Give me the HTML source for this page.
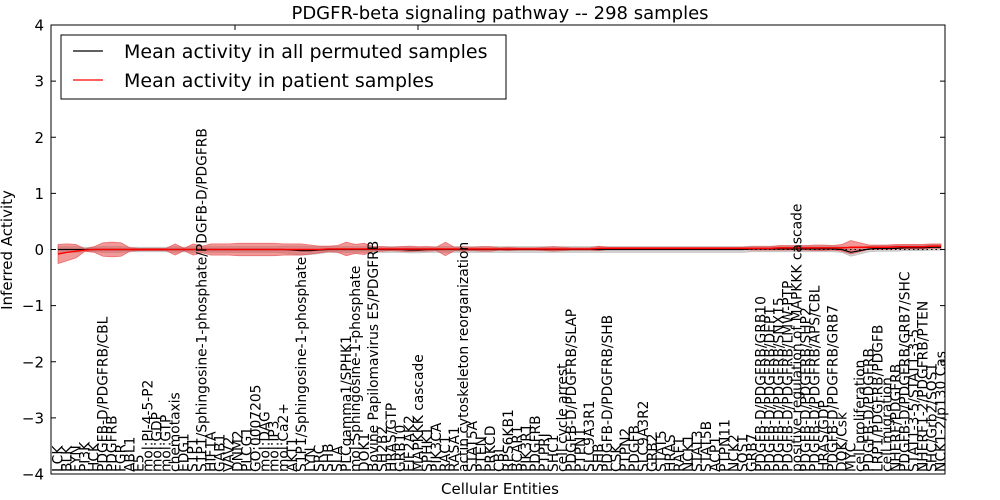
<!DOCTYPE html>
<html><head><meta charset="utf-8"><style>
html,body{margin:0;padding:0;background:#fff;}
svg{display:block;font-family:"DejaVu Sans","Liberation Sans",sans-serif;}
</style></head><body>
<svg id="chart" width="1000" height="500" viewBox="0 0 1000 500" xmlns="http://www.w3.org/2000/svg">
<rect x="0" y="0" width="1000" height="500" fill="#fff"/>
<text x="500" y="19" text-anchor="middle" font-size="18">PDGFR-beta signaling pathway -- 298 samples</text>
<g id="plot"></g>
<text x="500" y="494" text-anchor="middle" font-size="15">Cellular Entities</text>
<text x="12" y="250" text-anchor="middle" font-size="15" transform="rotate(-90 12 250)">Inferred Activity</text>
<g>
<rect x="61" y="35" width="445" height="64" fill="#fff" stroke="#000" stroke-width="1"/>
<line x1="73" y1="51" x2="103" y2="51" stroke="#000" stroke-width="1.2"/>
<text x="124" y="58" font-size="19">Mean activity in all permuted samples</text>
<line x1="73" y1="80" x2="103" y2="80" stroke="#f00" stroke-width="1.2"/>
<text x="124" y="87" font-size="19">Mean activity in patient samples</text>
</g>
</svg>
<script>
const categories = ["LCK","BLK","FYN","PI3K","HCK","PDGFB-D/PDGFRB/CBL","PDGFRB","FGR","ABL1","E5","mol:PI-4-5-P2","mol:GDP","mol:GTP","chemotaxis","EDG1","S1P1","S1P1/Sphingosine-1-phosphate/PDGFB-D/PDGFRB","HIF1A","GAB1","VAV2","DNM2","PLCG1","GO:0007205","mol:DAG","mol:IP3","mol:Ca2+","AKT1","S1P1/Sphingosine-1-phosphate","LYN","SRC","SHB","SLA","PLCgamma1/SPHK1","mol:Sphingosine-1-phosphate","DOK1","Bovine Papilomavirus E5/PDGFRB","SH2B2","HRAS/GTP","GRB10","EIF2AK2","MAPKKK cascade","SPHK1","PIK3CA","RAC1","RASA1","actin cytoskeleton reorganization","STAT5A","PTEN","PRKCD","CBL","RPS6KB1","BCAR1","PIK3R1","PDGFRB","PTPRJ","SHC1","cell cycle arrest","PDGFB-D/PDGFRB/SLAP","PTPN1","SLC9A3R1","SHB","PDGFB-D/PDGFRB/SHB","CSK","PTPN2","PDGFB","SLC9A3R2","GRB2","STAT5","HRAS","RAF1","NCK1","STAT3","STAT5B","ACP1","PTPN11","NCK2","SOS1","GRB7","PDGFB-D/PDGFRB/GRB10","PDGFB-D/PDGFRB/DEP1","PDGFB-D/PDGFRB/SNX15","PDGFB-D/PDGFRB/LMW-PTP","positive regulation of MAPKKK cascade","PDGFB-D/PDGFRB/SHP2","PDGFB-D/PDGFRB/APS/CBL","HRAS/GDP","PDGFB-D/PDGFRB/GRB7","DOK/Csk","MYC","cell proliferation","PDGFB-D/PDGFRB","LRP1/PDGFRB/PDGFB","cell migration","NHERF/PDGFRB","PDGFB-D/PDGFRB/GRB7/SHC","STAT1-3-5/STAT1-3-5","NHERF1-2/PDGFRB/PTEN","SHC/Grb2/SOS1","NCK1-2/p130 Cas"];
const patientMean = [-0.08,-0.05,-0.03,-0.01,0,0,0,0,0,0,0,0,0,0,0,0,0,0,0,0,0,0,0,0,0,0,0,0,0,0,0.01,0.01,0.01,0.01,0.01,0.01,0.01,0.01,0.01,0.01,0.01,0.01,0.01,0.01,0.01,0.01,0.01,0.01,0.01,0.01,0.01,0.01,0.01,0.01,0.01,0.01,0.01,0.01,0.01,0.01,0.02,0.02,0.02,0.02,0.02,0.02,0.02,0.02,0.02,0.02,0.02,0.02,0.02,0.02,0.02,0.02,0.02,0.02,0.02,0.02,0.03,0.03,0.03,0.03,0.03,0.03,0.03,0.03,0.04,0.04,0.04,0.04,0.04,0.05,0.05,0.05,0.05,0.06,0.06];
const patientSpread = [0.17,0.15,0.12,0.02,0.05,0.12,0.13,0.12,0.03,0.02,0.02,0.02,0.02,0.1,0.02,0.1,0.06,0.1,0.1,0.1,0.11,0.11,0.11,0.11,0.11,0.1,0.1,0.1,0.08,0.06,0.05,0.06,0.12,0.08,0.1,0.04,0.04,0.03,0.04,0.05,0.04,0.04,0.03,0.12,0.03,0.04,0.03,0.04,0.04,0.02,0.03,0.02,0.02,0.02,0.03,0.04,0.03,0.02,0.02,0.02,0.04,0.02,0.02,0.02,0.02,0.02,0.02,0.02,0.02,0.02,0.02,0.02,0.02,0.02,0.02,0.02,0.02,0.03,0.03,0.03,0.04,0.04,0.04,0.04,0.05,0.05,0.04,0.06,0.12,0.08,0.04,0.04,0.04,0.04,0.04,0.04,0.04,0.04,0.04];
const permutedMean = [0,0,0,0,0,0,0,0,0,0,0,0,0,0,0,0,0,0,0,0,0,0,0,0,0,0,-0.01,-0.02,-0.02,-0.01,0,0,0,0,0,0,0,0,0,-0.01,-0.01,0,0,0,0,0,0,0,0,0,0,0,0,0,0,0,0,0,0,0,0,0,0,0,0,0,0,0,0,0,0,0,0,0,0,0,0,0.01,0.01,0.01,0.01,0.01,0.01,0.01,0.01,0.01,0.01,0,-0.05,-0.02,0.01,0.02,0.02,0.02,0.03,0.03,0.03,0.04,0.04];
const permutedSpread = [0.05,0.05,0.05,0.04,0.04,0.05,0.05,0.05,0.04,0.04,0.04,0.04,0.04,0.05,0.04,0.05,0.05,0.05,0.05,0.05,0.05,0.05,0.05,0.05,0.05,0.06,0.07,0.08,0.07,0.06,0.05,0.05,0.05,0.05,0.05,0.05,0.05,0.05,0.05,0.05,0.05,0.05,0.05,0.05,0.05,0.05,0.05,0.05,0.05,0.05,0.05,0.05,0.05,0.05,0.05,0.05,0.05,0.05,0.05,0.05,0.05,0.05,0.05,0.05,0.05,0.05,0.05,0.05,0.05,0.05,0.05,0.05,0.05,0.05,0.05,0.05,0.05,0.05,0.05,0.05,0.05,0.05,0.05,0.05,0.05,0.05,0.05,0.05,0.07,0.06,0.05,0.05,0.05,0.05,0.05,0.05,0.05,0.05,0.05];
const yTicks = [4,3,2,1,0,-1,-2,-3,-4];
const yTickLabels = ["4","3","2","1","0","\u22121","\u22122","\u22123","\u22124"];

const NS="http://www.w3.org/2000/svg";
const L=51,R=945,T=25,B=474;
const X0=58,X1=941;
const yMin=-4,yMax=4;
function xScale(i){return X0+i*(X1-X0)/(categories.length-1);}
function yScale(v){return B-(v-yMin)/(yMax-yMin)*(B-T);}
const plot=document.getElementById('plot');
function mk(tag,attrs){const e=document.createElementNS(NS,tag);for(const k in attrs)e.setAttribute(k,attrs[k]);return e;}

function band(mean,spread,fill,stroke,name){
  let up=[],dn=[];
  for(let i=0;i<mean.length;i++){up.push(xScale(i)+','+yScale(mean[i]+spread[i]));dn.unshift(xScale(i)+','+yScale(mean[i]-spread[i]));}
  const p=mk('polygon',{points:up.concat(dn).join(' '),fill:fill,stroke:stroke,'stroke-width':0.8});
  
  
  plot.appendChild(p);
}
function line(mean,color,name,w){
  const pts=mean.map((v,i)=>xScale(i)+','+yScale(v)).join(' ');
  const p=mk('polyline',{points:pts,fill:'none',stroke:color,'stroke-width':w});
  
  
  plot.appendChild(p);
}
band(permutedMean,permutedSpread,'rgba(195,195,195,0.7)','rgba(185,185,185,0.9)','permuted-band');
band(patientMean,patientSpread,'rgba(230,70,70,0.55)','rgba(230,70,70,0.7)','patient-band');
const zl=mk('line',{x1:X0,x2:X1,y1:yScale(0),y2:yScale(0),stroke:'#000','stroke-width':1,'stroke-dasharray':'1.5,3'});


plot.appendChild(zl);
line(permutedMean,'#000','permuted-mean-line',1.2);
line(patientMean,'#f00','patient-mean-line',1.5);

categories.forEach((c,i)=>{
  const x=xScale(i);
  const t=mk('text',{x:x+4.5,y:472,'font-size':13.8,transform:'rotate(-90 '+(x+4.5)+' 472)'});
  t.textContent=c;
  
  
  plot.appendChild(t);
});

yTicks.forEach((v,i)=>{
  const y=yScale(v);
  const t1=mk('line',{x1:L,x2:L+5,y1:y,y2:y,stroke:'#000'});
  
  
  plot.appendChild(t1);
  const t2=mk('line',{x1:R-5,x2:R,y1:y,y2:y,stroke:'#000'});
  
  
  plot.appendChild(t2);
  const lb=mk('text',{x:L-7,y:y+5.5,'text-anchor':'end','font-size':15});
  lb.textContent=yTickLabels[i];
  
  
  plot.appendChild(lb);
});
[235,418].forEach(x=>{
  const t=mk('line',{x1:x,x2:x,y1:T,y2:T+5,stroke:'#000'});
  
  
  plot.appendChild(t);
});
const frame=mk('rect',{x:L,y:T,width:R-L,height:B-T,fill:'none',stroke:'#000','stroke-width':1});


plot.appendChild(frame);
</script>
</body></html>
